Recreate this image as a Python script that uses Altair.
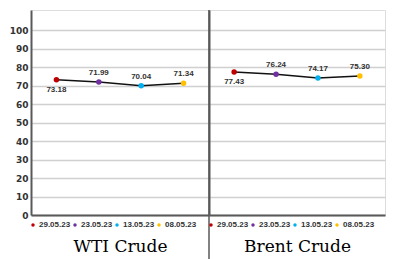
import altair as alt
import pandas as pd

dates = ["29.05.23", "23.05.23", "13.05.23", "08.05.23"]
colors = ["#c00000", "#7030a0", "#00b0f0", "#ffc000"]
wti = [73.18, 71.99, 70.04, 71.34]
brent = [77.43, 76.24, 74.17, 75.30]
titles = ["WTI Crude", "Brent Crude"]
y_ticks = [0, 10, 20, 30, 40, 50, 60, 70, 80, 90, 100]

GRID = "#d0d0d0"
AXIS = "#595959"
TICKFONT = "DejaVu Sans"
SMALLFONT = "Liberation Sans"
TITLEFONT = "DejaVu Serif"


def panel(values, title, show_y, w):
    df = pd.DataFrame({"date": dates, "value": values,
                       "label": [f"{v:.2f}" for v in values],
                       "pos": ["below"] + ["above"] * (len(values) - 1)})
    xenc = alt.X("date:N", sort=dates,
                 scale=alt.Scale(type="point", padding=0.6),
                 axis=alt.Axis(labels=False, ticks=False, title=title,
                               titleFont=TITLEFONT, titleFontSize=17,
                               titleFontWeight="normal", titleColor="#000",
                               titlePadding=23, domainColor=AXIS,
                               domainWidth=2, grid=False))
    yenc = alt.Y("value:Q", scale=alt.Scale(domain=[0, 111], nice=False),
                 axis=alt.Axis(values=y_ticks, labels=show_y, ticks=False,
                               title=None, labelFont=TICKFONT,
                               labelFontWeight="bold", labelFontSize=9,
                               labelColor="#333", labelPadding=3,
                               domainColor=AXIS, domainWidth=2,
                               gridColor=GRID, gridWidth=1.6))
    base = alt.Chart(df).encode(x=xenc, y=yenc)
    line = base.mark_line(color="#111", strokeWidth=1.5)
    pts = base.mark_circle(size=30, opacity=1).encode(
        color=alt.Color("date:N", sort=dates,
                        scale=alt.Scale(domain=dates, range=colors),
                        legend=alt.Legend(orient="none", legendX=-2,
                                          legendY=w["ly"], direction="horizontal",
                                          title=None, symbolType="circle",
                                          symbolSize=12, symbolStrokeWidth=0,
                                          labelFont=SMALLFONT,
                                          labelFontSize=8, labelFontWeight="bold",
                                          labelColor="#333", columnPadding=0,
                                          symbolOffset=0, labelOffset=2,
                                          padding=0)))
    above = base.transform_filter(alt.datum.pos == "above").mark_text(
        dy=-9, font=SMALLFONT, fontSize=8, fontWeight="bold", color="#333"
    ).encode(text="label:N")
    below = base.transform_filter(alt.datum.pos == "below").mark_text(
        dy=10, font=SMALLFONT, fontSize=8, fontWeight="bold", color="#333"
    ).encode(text="label:N")
    layers = [line, pts, above, below]
    if not show_y:
        sep = alt.Chart(df.head(1)).mark_rule(color=AXIS, strokeWidth=1.5).encode(
            x=alt.value(0), y=alt.value(0), y2=alt.value(251))
        layers.append(sep)
    return alt.layer(*layers).properties(width=w["w"], height=205)


left = panel(wti, titles[0], True, {"w": 178, "ly": 211})
right = panel(brent, titles[1], False, {"w": 176, "ly": 211})

chart = alt.hconcat(left, right, spacing=0, bounds="flush").resolve_scale(
    color="independent").resolve_legend(color="independent").configure_view(
    stroke=None).configure(background="white", padding=0)

chart.save("out.html", embed_options={"renderer": "svg", "actions": False})
